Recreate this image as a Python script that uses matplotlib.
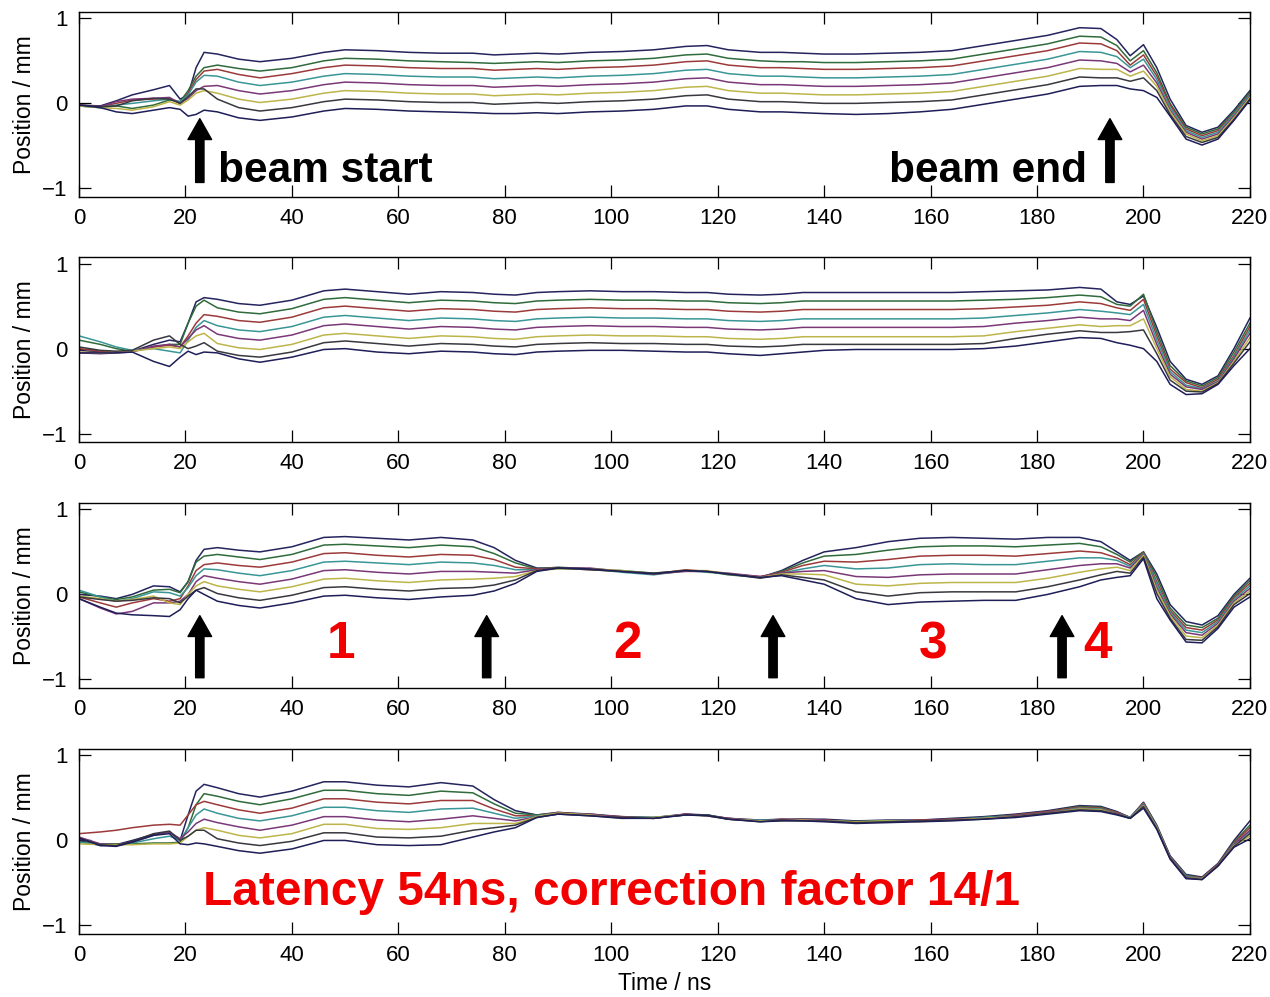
import matplotlib
matplotlib.use("Agg")
import matplotlib.pyplot as plt

plt.rcParams['font.family'] = ['Liberation Sans', 'DejaVu Sans']

# ---------------- data ----------------
time_ns = [0, 4, 7, 10, 14, 17, 19, 20.5, 22, 23.5,
           26, 30, 34, 40, 46, 50, 56, 62, 68, 74,
           78, 82, 86, 90, 96, 102, 108, 114, 118, 122,
           128, 132, 136, 140, 146, 152, 158, 164, 170, 176,
           182, 188, 192, 195, 197.5, 200, 202.5, 205, 208, 211,
           214, 217, 220]

x_ticks = [0, 20, 40, 60, 80, 100, 120, 140, 160, 180, 200, 220]
y_ticks = [-1, 0, 1]
y_tick_labels = ['\u22121', '0', '1']

# Panel 1: no feedback
panel1 = [
    [-0.02, -0.03, 0.03, 0.10, 0.16, 0.21, 0.05, 0.10, 0.42, 0.60]
    + [0.58, 0.52, 0.49, 0.53, 0.60, 0.63, 0.62, 0.60, 0.59, 0.59, 0.57, 0.58, 0.59, 0.58, 0.60, 0.61, 0.63, 0.67, 0.68, 0.63, 0.60, 0.60, 0.59, 0.58, 0.58, 0.59, 0.60, 0.62, 0.68, 0.74, 0.80, 0.89, 0.88]
    + [0.75, 0.56, 0.69, 0.42, 0.05, -0.26, -0.34, -0.28, -0.08, 0.15],
    [-0.03, -0.05, -0.03, -0.06, -0.02, 0.04, 0.02, 0.15, 0.32, 0.42]
    + [0.45, 0.41, 0.38, 0.42, 0.50, 0.53, 0.52, 0.50, 0.49, 0.48, 0.47, 0.48, 0.49, 0.48, 0.50, 0.51, 0.53, 0.57, 0.58, 0.53, 0.50, 0.49, 0.49, 0.48, 0.48, 0.49, 0.50, 0.52, 0.58, 0.64, 0.70, 0.79, 0.78]
    + [0.68, 0.50, 0.62, 0.36, 0.00, -0.28, -0.36, -0.30, -0.10, 0.13],
    [-0.02, -0.04, 0.00, 0.04, 0.05, 0.06, 0.00, 0.12, 0.28, 0.38]
    + [0.40, 0.34, 0.30, 0.35, 0.42, 0.45, 0.44, 0.42, 0.41, 0.41, 0.39, 0.40, 0.41, 0.40, 0.42, 0.43, 0.45, 0.49, 0.50, 0.45, 0.42, 0.42, 0.41, 0.40, 0.40, 0.41, 0.42, 0.44, 0.50, 0.56, 0.62, 0.71, 0.70]
    + [0.62, 0.45, 0.57, 0.32, -0.02, -0.30, -0.38, -0.32, -0.12, 0.11],
    [-0.03, -0.05, -0.02, 0.00, 0.03, 0.05, 0.02, 0.10, 0.25, 0.33]
    + [0.32, 0.25, 0.21, 0.25, 0.32, 0.35, 0.34, 0.32, 0.31, 0.31, 0.29, 0.30, 0.31, 0.30, 0.32, 0.33, 0.35, 0.39, 0.40, 0.35, 0.32, 0.32, 0.31, 0.30, 0.30, 0.31, 0.32, 0.34, 0.40, 0.46, 0.52, 0.61, 0.60]
    + [0.55, 0.42, 0.52, 0.28, -0.05, -0.32, -0.40, -0.34, -0.13, 0.10],
    [-0.02, -0.04, 0.02, 0.05, 0.06, 0.07, 0.00, 0.06, 0.15, 0.20]
    + [0.21, 0.15, 0.11, 0.15, 0.22, 0.25, 0.24, 0.22, 0.21, 0.21, 0.19, 0.20, 0.21, 0.20, 0.22, 0.23, 0.25, 0.29, 0.30, 0.25, 0.22, 0.22, 0.21, 0.20, 0.20, 0.21, 0.22, 0.24, 0.30, 0.36, 0.42, 0.51, 0.50]
    + [0.47, 0.37, 0.45, 0.24, -0.08, -0.34, -0.42, -0.36, -0.15, 0.08],
    [-0.03, -0.05, -0.06, -0.08, -0.04, 0.02, -0.02, 0.04, 0.12, 0.15]
    + [0.12, 0.05, 0.01, 0.05, 0.12, 0.15, 0.14, 0.12, 0.11, 0.11, 0.09, 0.10, 0.11, 0.10, 0.12, 0.13, 0.15, 0.19, 0.20, 0.15, 0.12, 0.12, 0.11, 0.10, 0.10, 0.11, 0.12, 0.14, 0.20, 0.26, 0.32, 0.41, 0.40]
    + [0.40, 0.32, 0.38, 0.20, -0.10, -0.36, -0.44, -0.38, -0.17, 0.07],
    [-0.02, -0.04, -0.03, 0.03, 0.06, 0.05, 0.00, 0.08, 0.17, 0.17]
    + [0.05, -0.05, -0.09, -0.05, 0.02, 0.05, 0.04, 0.02, 0.01, 0.01, -0.01, 0.00, 0.01, 0.00, 0.02, 0.03, 0.05, 0.09, 0.10, 0.05, 0.02, 0.02, 0.01, 0.00, 0.00, 0.01, 0.02, 0.04, 0.10, 0.16, 0.22, 0.31, 0.30]
    + [0.30, 0.26, 0.30, 0.15, -0.13, -0.39, -0.46, -0.40, -0.19, 0.05],
    [-0.02, -0.05, -0.10, -0.12, -0.08, -0.05, -0.07, -0.15, -0.13, -0.08]
    + [-0.10, -0.17, -0.20, -0.16, -0.09, -0.06, -0.07, -0.09, -0.10, -0.11, -0.12, -0.12, -0.11, -0.12, -0.10, -0.09, -0.07, -0.03, -0.03, -0.07, -0.10, -0.10, -0.11, -0.12, -0.13, -0.12, -0.10, -0.07, -0.01, 0.05, 0.11, 0.20, 0.21]
    + [0.21, 0.17, 0.15, 0.07, -0.15, -0.42, -0.49, -0.42, -0.20, 0.04],
]

# Panel 2
panel2 = [
    [-0.02, -0.04, -0.04, -0.03, 0.05, 0.10, 0.08, 0.30, 0.55, 0.60]
    + [0.58, 0.53, 0.51, 0.57, 0.68, 0.70, 0.67, 0.64, 0.67, 0.66, 0.64, 0.63, 0.66, 0.67, 0.68, 0.67, 0.67, 0.66, 0.66, 0.64, 0.63, 0.64, 0.66, 0.66, 0.66, 0.66, 0.66, 0.66, 0.67, 0.68, 0.69, 0.72, 0.70]
    + [0.55, 0.52, 0.62, 0.25, -0.15, -0.36, -0.42, -0.32, 0.00, 0.36],
    [0.10, 0.05, 0.00, -0.03, 0.02, 0.05, 0.05, 0.30, 0.50, 0.57]
    + [0.48, 0.43, 0.41, 0.47, 0.58, 0.60, 0.57, 0.54, 0.57, 0.56, 0.54, 0.53, 0.56, 0.57, 0.58, 0.57, 0.57, 0.56, 0.56, 0.54, 0.53, 0.54, 0.56, 0.56, 0.56, 0.56, 0.56, 0.56, 0.57, 0.58, 0.60, 0.63, 0.61]
    + [0.52, 0.50, 0.64, 0.20, -0.20, -0.38, -0.44, -0.34, -0.04, 0.30],
    [0.00, -0.03, -0.04, -0.03, 0.02, 0.04, 0.02, 0.15, 0.30, 0.40]
    + [0.38, 0.33, 0.31, 0.37, 0.48, 0.50, 0.47, 0.44, 0.47, 0.46, 0.44, 0.43, 0.46, 0.47, 0.48, 0.47, 0.47, 0.46, 0.46, 0.44, 0.43, 0.44, 0.46, 0.46, 0.46, 0.46, 0.46, 0.46, 0.47, 0.49, 0.51, 0.55, 0.53]
    + [0.48, 0.45, 0.58, 0.15, -0.24, -0.40, -0.46, -0.36, -0.08, 0.26],
    [0.15, 0.08, 0.02, -0.02, 0.00, -0.03, -0.05, 0.10, 0.25, 0.33]
    + [0.27, 0.22, 0.20, 0.26, 0.37, 0.39, 0.36, 0.33, 0.36, 0.35, 0.33, 0.32, 0.35, 0.36, 0.37, 0.36, 0.36, 0.35, 0.35, 0.33, 0.32, 0.33, 0.35, 0.35, 0.35, 0.35, 0.35, 0.35, 0.36, 0.39, 0.42, 0.46, 0.44]
    + [0.42, 0.40, 0.52, 0.10, -0.27, -0.43, -0.47, -0.38, -0.10, 0.22],
    [-0.05, -0.06, -0.05, -0.04, 0.03, 0.05, 0.02, 0.12, 0.22, 0.27]
    + [0.17, 0.12, 0.10, 0.16, 0.27, 0.29, 0.26, 0.23, 0.26, 0.25, 0.23, 0.22, 0.25, 0.26, 0.27, 0.26, 0.26, 0.25, 0.25, 0.23, 0.22, 0.23, 0.25, 0.25, 0.25, 0.25, 0.25, 0.25, 0.26, 0.30, 0.33, 0.37, 0.35]
    + [0.35, 0.33, 0.45, 0.05, -0.30, -0.45, -0.48, -0.39, -0.12, 0.18],
    [-0.04, -0.05, -0.04, -0.03, 0.00, 0.02, 0.00, 0.08, 0.15, 0.18]
    + [0.06, 0.01, -0.01, 0.05, 0.16, 0.18, 0.15, 0.12, 0.15, 0.14, 0.12, 0.11, 0.14, 0.15, 0.16, 0.15, 0.15, 0.14, 0.14, 0.12, 0.11, 0.12, 0.14, 0.14, 0.14, 0.14, 0.14, 0.14, 0.15, 0.20, 0.24, 0.28, 0.26]
    + [0.27, 0.27, 0.35, 0.00, -0.33, -0.48, -0.50, -0.40, -0.15, 0.13],
    [0.02, -0.02, -0.03, -0.02, 0.10, 0.15, 0.05, 0.00, 0.03, 0.07]
    + [-0.03, -0.08, -0.10, -0.04, 0.07, 0.09, 0.06, 0.03, 0.06, 0.05, 0.03, 0.02, 0.05, 0.06, 0.07, 0.06, 0.06, 0.05, 0.05, 0.03, 0.02, 0.03, 0.05, 0.05, 0.05, 0.05, 0.05, 0.05, 0.06, 0.12, 0.17, 0.21, 0.19]
    + [0.19, 0.20, 0.22, -0.06, -0.37, -0.50, -0.51, -0.41, -0.17, 0.08],
    [-0.05, -0.05, -0.05, -0.04, -0.15, -0.21, -0.10, -0.03, -0.07, -0.04]
    + [-0.05, -0.12, -0.16, -0.10, -0.01, 0.00, -0.04, -0.06, -0.03, -0.04, -0.06, -0.07, -0.04, -0.03, -0.02, -0.02, -0.03, -0.04, -0.04, -0.06, -0.08, -0.06, -0.04, -0.02, -0.01, -0.01, -0.01, -0.01, 0.00, 0.03, 0.08, 0.13, 0.12]
    + [0.07, 0.04, 0.00, -0.15, -0.42, -0.54, -0.53, -0.42, -0.20, 0.00],
]

# Panel 3
panel3 = [
    [0.00, -0.02, -0.05, 0.00, 0.10, 0.09, 0.03, 0.15, 0.40, 0.53]
    + [0.55, 0.52, 0.50, 0.56, 0.67, 0.68, 0.66, 0.64, 0.67, 0.64, 0.55, 0.40, 0.31, 0.31, 0.30, 0.27, 0.24, 0.28, 0.27, 0.24, 0.20, 0.28, 0.40, 0.50, 0.55, 0.62, 0.66, 0.67, 0.66, 0.65, 0.67, 0.67, 0.62]
    + [0.50, 0.40, 0.50, 0.24, -0.12, -0.32, -0.36, -0.25, 0.00, 0.19],
    [0.03, -0.03, -0.06, -0.03, 0.05, 0.06, 0.02, 0.15, 0.38, 0.45]
    + [0.47, 0.44, 0.41, 0.47, 0.58, 0.59, 0.57, 0.55, 0.58, 0.56, 0.48, 0.37, 0.30, 0.32, 0.30, 0.28, 0.25, 0.28, 0.27, 0.23, 0.20, 0.27, 0.37, 0.45, 0.47, 0.52, 0.56, 0.57, 0.57, 0.56, 0.58, 0.60, 0.56]
    + [0.47, 0.38, 0.50, 0.20, -0.16, -0.36, -0.39, -0.28, -0.02, 0.16],
    [-0.03, -0.10, -0.15, -0.10, -0.05, -0.08, -0.05, 0.10, 0.28, 0.35]
    + [0.37, 0.34, 0.32, 0.38, 0.48, 0.49, 0.46, 0.44, 0.47, 0.46, 0.41, 0.32, 0.30, 0.31, 0.29, 0.27, 0.24, 0.29, 0.27, 0.24, 0.21, 0.26, 0.34, 0.39, 0.38, 0.41, 0.45, 0.46, 0.46, 0.45, 0.48, 0.51, 0.49]
    + [0.43, 0.35, 0.49, 0.15, -0.19, -0.39, -0.42, -0.30, -0.04, 0.13],
    [0.05, -0.03, -0.08, -0.05, 0.03, 0.02, -0.02, 0.08, 0.22, 0.30]
    + [0.29, 0.25, 0.22, 0.28, 0.38, 0.39, 0.37, 0.35, 0.38, 0.37, 0.34, 0.29, 0.29, 0.30, 0.30, 0.26, 0.23, 0.28, 0.26, 0.24, 0.20, 0.25, 0.30, 0.34, 0.30, 0.31, 0.35, 0.36, 0.35, 0.35, 0.39, 0.43, 0.43]
    + [0.40, 0.33, 0.48, 0.12, -0.21, -0.42, -0.45, -0.32, -0.06, 0.10],
    [-0.05, -0.16, -0.23, -0.20, -0.10, -0.10, -0.08, 0.00, 0.15, 0.22]
    + [0.19, 0.15, 0.12, 0.18, 0.28, 0.29, 0.26, 0.24, 0.27, 0.27, 0.26, 0.25, 0.29, 0.31, 0.31, 0.27, 0.24, 0.27, 0.27, 0.25, 0.21, 0.25, 0.27, 0.28, 0.21, 0.20, 0.23, 0.24, 0.24, 0.24, 0.29, 0.34, 0.36]
    + [0.36, 0.31, 0.47, 0.08, -0.23, -0.45, -0.48, -0.34, -0.08, 0.07],
    [-0.02, -0.05, -0.08, -0.06, -0.02, -0.10, -0.12, 0.00, 0.10, 0.15]
    + [0.10, 0.06, 0.03, 0.09, 0.18, 0.19, 0.16, 0.14, 0.17, 0.18, 0.19, 0.21, 0.28, 0.30, 0.30, 0.28, 0.24, 0.28, 0.28, 0.24, 0.20, 0.24, 0.24, 0.23, 0.12, 0.10, 0.13, 0.14, 0.14, 0.14, 0.19, 0.26, 0.30]
    + [0.32, 0.28, 0.46, 0.05, -0.25, -0.49, -0.51, -0.36, -0.10, 0.04],
    [-0.03, -0.06, -0.08, -0.07, -0.04, -0.05, -0.10, -0.02, 0.05, 0.08]
    + [0.01, -0.04, -0.07, -0.01, 0.08, 0.09, 0.06, 0.04, 0.07, 0.08, 0.11, 0.17, 0.28, 0.31, 0.29, 0.27, 0.25, 0.28, 0.27, 0.24, 0.19, 0.23, 0.20, 0.17, 0.03, -0.02, 0.02, 0.03, 0.03, 0.03, 0.09, 0.17, 0.23]
    + [0.27, 0.25, 0.44, 0.01, -0.28, -0.53, -0.54, -0.38, -0.12, 0.01],
    [-0.05, -0.15, -0.22, -0.24, -0.25, -0.26, -0.18, -0.05, 0.05, 0.00]
    + [-0.08, -0.13, -0.16, -0.10, -0.02, -0.01, -0.04, -0.06, -0.03, -0.01, 0.04, 0.13, 0.27, 0.31, 0.30, 0.27, 0.24, 0.28, 0.27, 0.24, 0.20, 0.22, 0.17, 0.12, -0.05, -0.12, -0.09, -0.08, -0.07, -0.07, 0.00, 0.09, 0.17]
    + [0.20, 0.22, 0.42, -0.05, -0.30, -0.56, -0.57, -0.40, -0.15, -0.03],
]

# Panel 4: latency 54 ns, correction factor 14/1
panel4 = [
    [0.00, -0.06, -0.05, 0.00, 0.07, 0.10, 0.00, 0.30, 0.58, 0.66]
    + [0.62, 0.55, 0.51, 0.58, 0.69, 0.69, 0.65, 0.63, 0.68, 0.64, 0.48, 0.35, 0.30, 0.33, 0.31, 0.28, 0.27, 0.31, 0.30, 0.26, 0.24, 0.25, 0.25, 0.25, 0.23, 0.24, 0.24, 0.26, 0.28, 0.31, 0.35, 0.41, 0.40]
    + [0.34, 0.27, 0.45, 0.18, -0.18, -0.40, -0.43, -0.27, 0.00, 0.23],
    [-0.02, -0.04, -0.04, -0.04, -0.03, -0.03, -0.02, 0.15, 0.42, 0.55]
    + [0.52, 0.46, 0.42, 0.49, 0.59, 0.59, 0.55, 0.53, 0.58, 0.56, 0.43, 0.32, 0.30, 0.32, 0.31, 0.27, 0.27, 0.30, 0.30, 0.25, 0.23, 0.24, 0.25, 0.24, 0.22, 0.23, 0.23, 0.25, 0.27, 0.30, 0.34, 0.40, 0.39]
    + [0.33, 0.27, 0.44, 0.17, -0.19, -0.41, -0.44, -0.28, -0.02, 0.18],
    [0.08, 0.10, 0.12, 0.15, 0.18, 0.19, 0.18, 0.30, 0.42, 0.46]
    + [0.42, 0.36, 0.32, 0.38, 0.49, 0.49, 0.45, 0.43, 0.47, 0.47, 0.37, 0.29, 0.29, 0.33, 0.30, 0.28, 0.26, 0.31, 0.29, 0.26, 0.23, 0.25, 0.24, 0.24, 0.21, 0.22, 0.24, 0.25, 0.26, 0.30, 0.34, 0.39, 0.38]
    + [0.33, 0.27, 0.44, 0.16, -0.19, -0.42, -0.44, -0.28, -0.03, 0.15],
    [-0.02, -0.05, -0.06, -0.03, 0.02, 0.05, 0.00, 0.15, 0.30, 0.37]
    + [0.32, 0.26, 0.23, 0.29, 0.39, 0.39, 0.35, 0.33, 0.37, 0.38, 0.32, 0.26, 0.29, 0.32, 0.30, 0.27, 0.27, 0.30, 0.30, 0.25, 0.24, 0.24, 0.24, 0.23, 0.22, 0.23, 0.23, 0.24, 0.27, 0.29, 0.33, 0.38, 0.37]
    + [0.32, 0.27, 0.43, 0.16, -0.20, -0.42, -0.45, -0.29, -0.04, 0.10],
    [0.04, -0.04, -0.05, -0.02, 0.06, 0.10, 0.02, 0.10, 0.20, 0.25]
    + [0.21, 0.16, 0.12, 0.18, 0.28, 0.28, 0.24, 0.22, 0.25, 0.29, 0.26, 0.23, 0.28, 0.31, 0.31, 0.27, 0.26, 0.31, 0.29, 0.26, 0.23, 0.24, 0.25, 0.24, 0.21, 0.22, 0.23, 0.25, 0.26, 0.29, 0.33, 0.37, 0.36]
    + [0.32, 0.26, 0.42, 0.15, -0.20, -0.43, -0.45, -0.29, -0.05, 0.12],
    [-0.04, -0.05, -0.05, -0.05, -0.04, -0.04, -0.03, 0.05, 0.12, 0.15]
    + [0.12, 0.06, 0.03, 0.08, 0.19, 0.19, 0.14, 0.13, 0.15, 0.20, 0.20, 0.20, 0.28, 0.32, 0.30, 0.26, 0.27, 0.30, 0.29, 0.25, 0.23, 0.23, 0.24, 0.23, 0.22, 0.23, 0.22, 0.24, 0.26, 0.28, 0.32, 0.37, 0.36]
    + [0.31, 0.26, 0.41, 0.15, -0.21, -0.44, -0.45, -0.30, -0.06, 0.05],
    [0.02, -0.05, -0.06, -0.01, 0.08, 0.11, 0.00, 0.05, 0.12, 0.12]
    + [0.02, -0.03, -0.06, -0.01, 0.09, 0.09, 0.04, 0.03, 0.05, 0.12, 0.15, 0.18, 0.27, 0.31, 0.29, 0.27, 0.26, 0.30, 0.30, 0.25, 0.22, 0.24, 0.23, 0.23, 0.21, 0.22, 0.23, 0.24, 0.25, 0.28, 0.32, 0.36, 0.35]
    + [0.31, 0.26, 0.40, 0.14, -0.21, -0.44, -0.46, -0.30, -0.07, 0.08],
    [0.03, -0.06, -0.07, -0.02, 0.06, 0.08, -0.04, -0.05, -0.03, -0.04]
    + [-0.07, -0.12, -0.15, -0.10, 0.00, 0.00, -0.05, -0.06, -0.05, 0.04, 0.10, 0.15, 0.27, 0.31, 0.29, 0.26, 0.26, 0.30, 0.29, 0.25, 0.22, 0.23, 0.23, 0.22, 0.20, 0.21, 0.22, 0.23, 0.25, 0.27, 0.31, 0.35, 0.34]
    + [0.30, 0.26, 0.38, 0.13, -0.22, -0.45, -0.46, -0.30, -0.08, 0.02],
]

line_colors = ['#24245e', '#2f6b3b', '#9c3a3a', '#3a9696', '#7a3878',
               '#bdb54a', '#38383f', '#1e1e58']

# annotation content
start_end_labels = ['beam start', 'beam end']
section_labels = ['1', '2', '3', '4']
bottom_caption = 'Latency 54ns, correction factor 14/1'

# ---------------- figure ----------------
fig = plt.figure(figsize=(12.7, 9.97), dpi=100)
left, width, height = 0.0622, 0.922, 0.1855
bottoms = [0.8025, 0.5565, 0.3100, 0.0632]
panels = [panel1, panel2, panel3, panel4]
axes = []
for b, data in zip(bottoms, panels):
    ax = fig.add_axes([left, b, width, height])
    for series, col in zip(data, line_colors):
        ax.plot(time_ns, series, color=col, lw=1.1)
    ax.set_xlim(0, 220)
    ax.set_ylim(-1.1, 1.075)
    ax.set_xticks(x_ticks)
    ax.set_xticklabels([str(t) for t in x_ticks])
    ax.set_yticks(y_ticks)
    ax.set_yticklabels(y_tick_labels)
    ax.tick_params(direction='in', length=8.5, width=0.9, top=True,
                   right=True, labelsize=16, pad=8, colors='black')
    for s in ax.spines.values():
        s.set_linewidth(1.0)
    ax.set_ylabel('Position / mm', fontsize=16.5)
    ax.yaxis.set_label_coords(-0.037, 0.5)
    axes.append(ax)

axes[3].set_xlabel('Time / ns', fontsize=16.5, labelpad=4)

arrow_kw = dict(facecolor='black', edgecolor='black', width=6,
                headwidth=17, headlength=15, shrink=0)

# panel 1 arrows and text
ax = axes[0]
for t in [22.7, 193.7]:
    ax.annotate('', xy=(t, -0.18), xytext=(t, -0.93), arrowprops=arrow_kw)
ax.text(26.1, -0.93, start_end_labels[0], fontsize=30.5, fontweight='bold',
        ha='left', va='baseline')
ax.text(189.4, -0.93, start_end_labels[1], fontsize=30.5, fontweight='bold',
        ha='right', va='baseline')

# panel 3 arrows and numbers
ax = axes[2]
for t in [22.7, 76.6, 130.4, 184.7]:
    ax.annotate('', xy=(t, -0.25), xytext=(t, -0.98), arrowprops=arrow_kw)
for t, lab in zip([49.2, 103.1, 160.4, 191.4], section_labels):
    ax.text(t, -0.75, lab, color='#f20000', fontsize=37, fontweight='bold',
            ha='center', va='baseline')

# panel 4 caption
axes[3].text(23.3, -0.76, bottom_caption, color='#f20000', fontsize=34.5,
             fontweight='bold', ha='left', va='baseline')

fig.savefig('out.png', dpi=100)
